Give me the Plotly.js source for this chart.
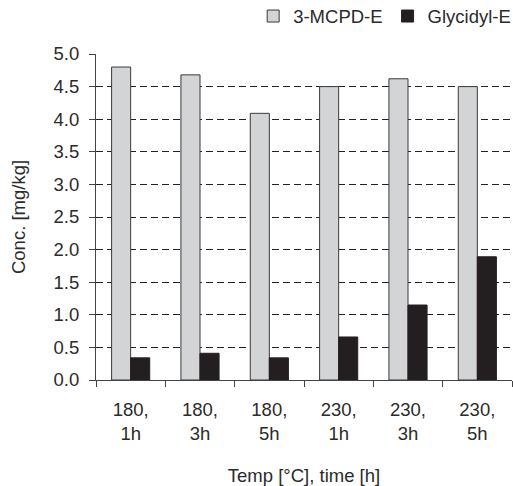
<!DOCTYPE html>
<html>
<head>
<meta charset="utf-8">
<script src="https://cdn.plot.ly/plotly-3.0.1.min.js"></script>
<style>html,body{margin:0;padding:0;background:#fff;}#chart{width:513px;height:486px;}</style>
</head>
<body>
<div id="chart"></div>
<script>
const categories = ["180,<br>1h", "180,<br>3h", "180,<br>5h", "230,<br>1h", "230,<br>3h", "230,<br>5h"];
const mcpdValues = [4.80, 4.68, 4.09, 4.50, 4.62, 4.50];
const glycidylValues = [0.34, 0.41, 0.34, 0.66, 1.15, 1.89];
const yTicks = [0, 0.5, 1, 1.5, 2, 2.5, 3, 3.5, 4, 4.5, 5];
const yTickText = yTicks.map(v => v.toFixed(1));

const textColor = "#2b2b2b";
const fs = 18.5;
const data = [
  {type: "bar", name: "3-MCPD-E", x: categories, y: mcpdValues,
   marker: {color: "#d3d4d5", line: {color: "#3a3a3a", width: 1}}},
  {type: "bar", name: "Glycidyl-E", x: categories, y: glycidylValues,
   marker: {color: "#231f20", line: {color: "#231f20", width: 1}}}
];
const layout = {
  width: 513, height: 486,
  margin: {l: 96, r: 1, t: 54, b: 106, autoexpand: false},
  paper_bgcolor: "#fff", plot_bgcolor: "#fff",
  font: {family: "Liberation Sans, Arial, sans-serif", size: fs, color: textColor},
  barmode: "group", bargap: 0.45, bargroupgap: 0,
  showlegend: true,
  legend: {orientation: "h", x: 1.01, xanchor: "right", y: 1.115, yanchor: "middle",
           font: {size: fs, color: textColor}, itemwidth: 30, traceorder: "normal"},
  xaxis: {
    type: "category", tickson: "boundaries", ticks: "outside", ticklen: 6, tickcolor: "#444",
    showline: true, linecolor: "#444", linewidth: 1, showgrid: false,
    ticklabelstandoff: 13,
    tickfont: {size: fs, color: textColor},
    title: {text: "Temp [°C], time [h]", font: {size: fs, color: textColor}, standoff: 26}
  },
  yaxis: {
    range: [0, 5], tickvals: yTicks, ticktext: yTickText, ticks: "outside", ticklen: 6, tickcolor: "#444",
    showline: true, linecolor: "#444", linewidth: 1,
    showgrid: true, gridcolor: "#222", griddash: "7px,4px", gridwidth: 1, zeroline: false,
    ticklabelstandoff: 6,
    tickfont: {size: fs, color: textColor},
    title: {text: "Conc. [mg/kg]", font: {size: fs, color: textColor}, standoff: 23}
  }
};
Plotly.newPlot("chart", data, layout, {displayModeBar: false, staticPlot: true});
</script>
</body>
</html>
